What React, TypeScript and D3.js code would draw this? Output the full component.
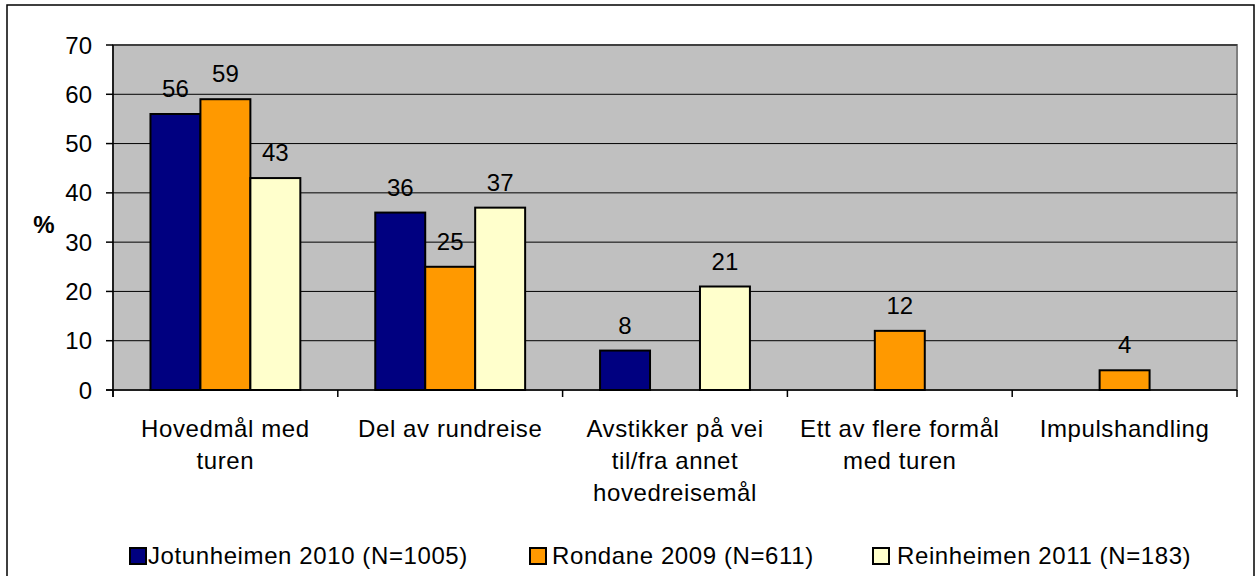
import React from "react";
import * as d3 from "d3";

const categories: string[][] = [
  ["Hovedmål med", "turen"],
  ["Del av rundreise"],
  ["Avstikker på vei", "til/fra annet", "hovedreisemål"],
  ["Ett av flere formål", "med turen"],
  ["Impulshandling"],
];
const seriesNames = ["Jotunheimen 2010 (N=1005)", "Rondane 2009 (N=611)", "Reinheimen 2011 (N=183)"];
const jotunheimen: (number | null)[] = [56, 36, 8, null, null];
const rondane: (number | null)[] = [59, 25, null, 12, 4];
const reinheimen: (number | null)[] = [43, 37, 21, null, null];
const yTicks = [0, 10, 20, 30, 40, 50, 60, 70];
const colors = ["#000080", "#FF9900", "#FFFFCC"];

const W = 1255;
const H = 576;
const plot = { left: 113, right: 1237, top: 45, bottom: 390 };
const FONT = "Liberation Sans, Arial, Helvetica, sans-serif";
const FS = 24;

export default function App() {
  const catKeys = categories.map((c) => c.join(" "));
  const x = d3.scaleBand<string>().domain(catKeys).range([plot.left, plot.right]).paddingInner(0).paddingOuter(0);
  const xs = d3.scaleBand<string>().domain(seriesNames).range([0, x.bandwidth()]).paddingInner(0).paddingOuter(0.75);
  const y = d3.scaleLinear().domain([0, 70]).range([plot.bottom, plot.top]);
  const seriesData = [jotunheimen, rondane, reinheimen];
  const boundaries = catKeys.map((k) => x(k) as number).concat([plot.right]);

  const legendItems = [
    { sq: 130, tx: 148 },
    { sq: 530, tx: 552 },
    { sq: 873, tx: 897 },
  ];

  return (
    <svg width={W} height={H} style={{ position: "absolute", left: 0, top: 0 }} fontFamily={FONT}>
      <rect x={0} y={0} width={W} height={H} fill="#fff" />
      <rect x={7} y={5} width={1247} height={H + 10} fill="#fff" stroke="#000" strokeWidth={1.5} />
      {/* plot area */}
      <rect x={plot.left} y={plot.top} width={plot.right - plot.left} height={plot.bottom - plot.top} fill="#C0C0C0" stroke="#808080" strokeWidth={2} />
      {/* gridlines */}
      {yTicks.slice(1).map((t) => (
        <line key={t} x1={plot.left} x2={plot.right} y1={y(t)} y2={y(t)} stroke="#000" strokeWidth={1} />
      ))}
      {/* bars */}
      {seriesData.map((s, si) =>
        s.map((v, ci) =>
          v == null ? null : (
            <rect
              key={`${si}-${ci}`}
              x={(x(catKeys[ci]) as number) + (xs(seriesNames[si]) as number)}
              y={y(v)}
              width={xs.bandwidth()}
              height={y(0) - y(v)}
              fill={colors[si]}
              stroke="#000"
              strokeWidth={2}
            />
          )
        )
      )}
      {/* data labels */}
      {seriesData.map((s, si) =>
        s.map((v, ci) =>
          v == null ? null : (
            <text
              key={`l${si}-${ci}`}
              x={(x(catKeys[ci]) as number) + (xs(seriesNames[si]) as number) + xs.bandwidth() / 2}
              y={y(v) - 17}
              textAnchor="middle"
              fontSize={FS}
              fill="#000"
            >
              {v}
            </text>
          )
        )
      )}
      {/* axes */}
      <line x1={plot.left} x2={plot.left} y1={plot.top} y2={plot.bottom + 7} stroke="#000" strokeWidth={1.5} />
      <line x1={plot.left - 7} x2={plot.right} y1={plot.bottom} y2={plot.bottom} stroke="#000" strokeWidth={1.5} />
      {yTicks.map((t) => (
        <g key={`yt${t}`}>
          <line x1={plot.left - 7} x2={plot.left} y1={y(t)} y2={y(t)} stroke="#000" strokeWidth={1.5} />
          <text x={92} y={y(t)} dy="0.36em" textAnchor="end" fontSize={FS} fill="#000">
            {t}
          </text>
        </g>
      ))}
      {boundaries.map((b, i) => (
        <line key={`xt${i}`} x1={b} x2={b} y1={plot.bottom} y2={plot.bottom + 7} stroke="#000" strokeWidth={1.5} />
      ))}
      {/* category labels */}
      {categories.map((lines, ci) => (
        <text
          key={`c${ci}`}
          x={(x(catKeys[ci]) as number) + x.bandwidth() / 2}
          y={437}
          textAnchor="middle"
          fontSize={FS}
          letterSpacing={0.6}
          fill="#000"
        >
          {lines.map((ln, li) => (
            <tspan key={li} x={(x(catKeys[ci]) as number) + x.bandwidth() / 2} dy={li === 0 ? 0 : 32}>
              {ln}
            </tspan>
          ))}
        </text>
      ))}
      {/* y title */}
      <text x={44} y={224} dy="0.36em" textAnchor="middle" fontSize={24} fontWeight="bold" fill="#000">
        %
      </text>
      {/* legend */}
      {seriesNames.map((n, i) => (
        <g key={`lg${i}`}>
          <rect x={legendItems[i].sq} y={548} width={16} height={16} fill={colors[i]} stroke="#000" strokeWidth={2} />
          <text x={legendItems[i].tx} y={564} fontSize={FS} letterSpacing={0.6} fill="#000">
            {n}
          </text>
        </g>
      ))}
    </svg>
  );
}
